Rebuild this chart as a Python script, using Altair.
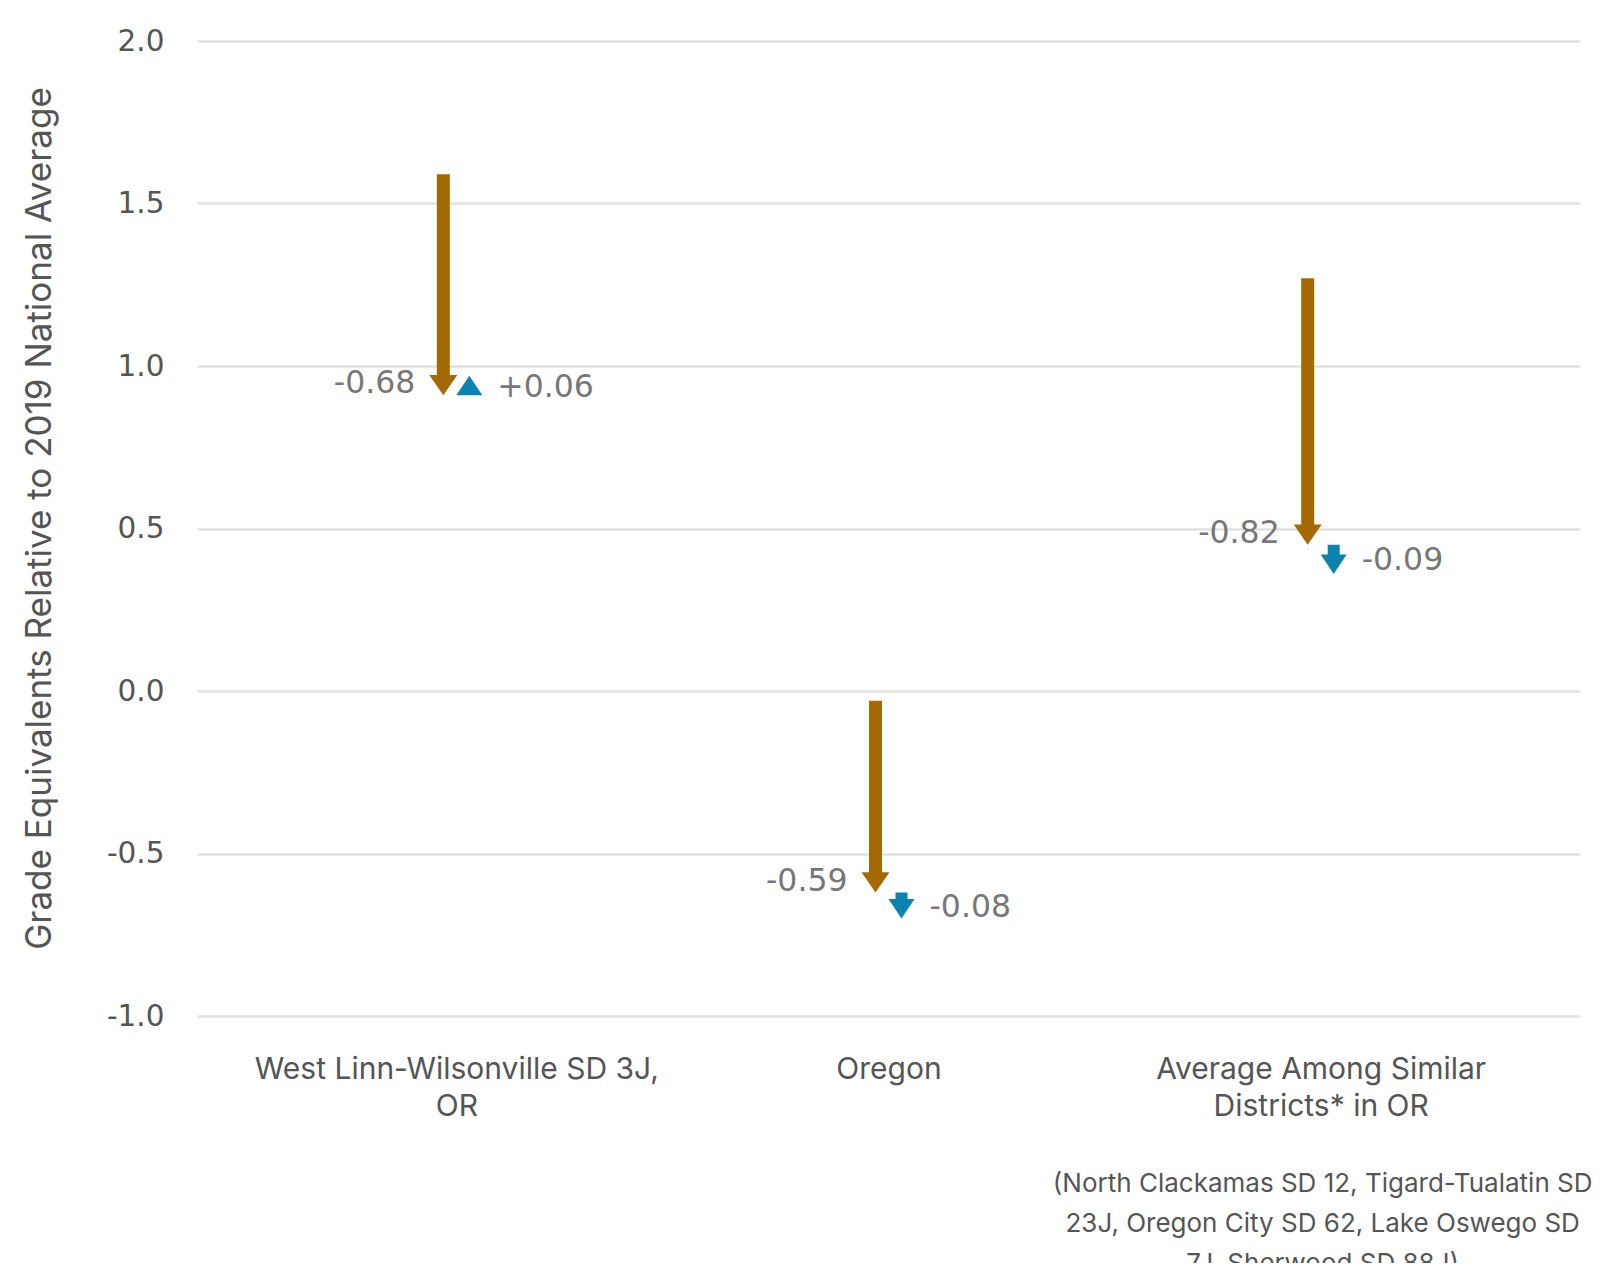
import altair as alt
import pandas as pd

# ---- data ----
categories = ["West Linn-Wilsonville SD 3J,|OR", "Oregon", "Average Among Similar|Districts* in OR"]
start_2019 = [1.59, -0.03, 1.27]
change_19_22 = [-0.68, -0.59, -0.82]
change_22_23 = [0.06, -0.08, -0.09]
footnote = "(North Clackamas SD 12, Tigard-Tualatin SD|23J, Oregon City SD 62, Lake Oswego SD|7J. Sherwood SD 88J)"

BROWN = "#A46900"
BLUE = "#0A84AE"
LABEL_GRAY = "#777777"
AXIS_GRAY = "#555555"

rows = []
for c, s, d1, d2 in zip(categories, start_2019, change_19_22, change_22_23):
    e1 = round(s + d1, 3)
    e2 = round(e1 + d2, 3)
    rows.append({
        "cat": c, "start": s, "end1": e1, "end2": e2,
        "d1": d1, "d2": d2,
        "lab1": f"{d1:.2f}", "lab2": f"{d2:+.2f}",
        "mid2": (e1 + e2) / 2,
    })
df = pd.DataFrame(rows)
note_df = pd.DataFrame({"cat": [categories[2]], "note": [footnote]})

xenc = alt.X("cat:N", sort=categories,
             scale=alt.Scale(type="point", padding=0.6),
             axis=alt.Axis(title=None, domain=False, ticks=False, grid=False,
                           labelExpr="split(datum.label, '|')",
                           labelFont="Inter", labelFontSize=30, labelColor=AXIS_GRAY,
                           labelPadding=38, labelLineHeight=37, labelLimit=0,
                           labelAngle=0, labelBaseline="top"))
yscale = alt.Scale(domain=[-1, 2], nice=False, zero=False)
yaxis = alt.Axis(title="Grade Equivalents Relative to 2019 National Average",
                 values=[-1.0, -0.5, 0.0, 0.5, 1.0, 1.5, 2.0],
                 labelExpr="(datum.value < 0 ? '-' : '') + format(abs(datum.value), '.1f')",
                 domain=False, ticks=False, tickSize=0,
                 grid=True, gridColor="#E2E2E2", gridWidth=2.5,
                 labelFont="DejaVu Sans", labelFontSize=29.5, labelColor=AXIS_GRAY, labelPadding=33,
                 titleFont="Inter", titleFontSize=35, titleFontWeight="normal",
                 titleColor=AXIS_GRAY, titleX=-158, titleY=477, titleAngle=270,
                 titleAlign="center", titleBaseline="middle", titleLimit=2000)

base = alt.Chart(df)
xs = alt.X("cat:N", sort=categories)

brown_shaft = base.mark_rule(color=BROWN, strokeWidth=13, strokeCap="butt",
                             xOffset=-13, y2Offset=-18).encode(
    x=xenc, y=alt.Y("start:Q", scale=yscale, axis=yaxis), y2="end1:Q")

brown_head = base.mark_point(shape="M-1,-1.45L1,-1.45L0,0Z", size=784, filled=True,
                             color=BROWN, opacity=1, strokeWidth=0, xOffset=-13).encode(
    x=xs, y="end1:Q")

blue_down_shaft = base.transform_filter("datum.d2 < 0").mark_rule(
    color=BLUE, strokeWidth=12, strokeCap="butt", xOffset=13, y2Offset=-17).encode(
    x=xs, y="end1:Q", y2="end2:Q")

blue_down_head = base.transform_filter("datum.d2 < 0").mark_point(
    shape="M-1,-1.5L1,-1.5L0,0Z", size=676, filled=True, color=BLUE, opacity=1,
    strokeWidth=0, xOffset=13).encode(x=xs, y="end2:Q")

blue_up_head = base.transform_filter("datum.d2 > 0").mark_point(
    shape="M-1,1.5L1,1.5L0,0Z", size=676, filled=True, color=BLUE, opacity=1,
    strokeWidth=0, xOffset=13).encode(x=xs, y="end2:Q")

brown_label = base.mark_text(font="DejaVu Sans", fontSize=31.5, color=LABEL_GRAY,
                             align="right", baseline="middle", dx=-41, dy=-11).encode(
    x=xs, y="end1:Q", text="lab1:N")

blue_label = base.mark_text(font="DejaVu Sans", fontSize=31.5, color=LABEL_GRAY,
                            align="left", baseline="middle", dx=41, dy=2).encode(
    x=xs, y="mid2:Q", text="lab2:N")

note = alt.Chart(note_df).mark_text(font="Inter", fontSize=26, color=AXIS_GRAY,
                                    align="center", baseline="middle", lineBreak="|",
                                    lineHeight=40, dx=2).encode(
    x=xs, y=alt.value(1143), text="note:N")

chart = alt.layer(brown_shaft, brown_head, blue_down_shaft, blue_down_head, blue_up_head,
                  brown_label, blue_label, note).properties(
    width=1383, height=975,
    autosize=alt.AutoSizeParams(type="none"),
    padding={"left": 189, "top": 33, "right": 12, "bottom": 247},
).configure(background="white").configure_view(stroke=None)

chart.save("out.html", embed_options={"renderer": "svg", "actions": False})
